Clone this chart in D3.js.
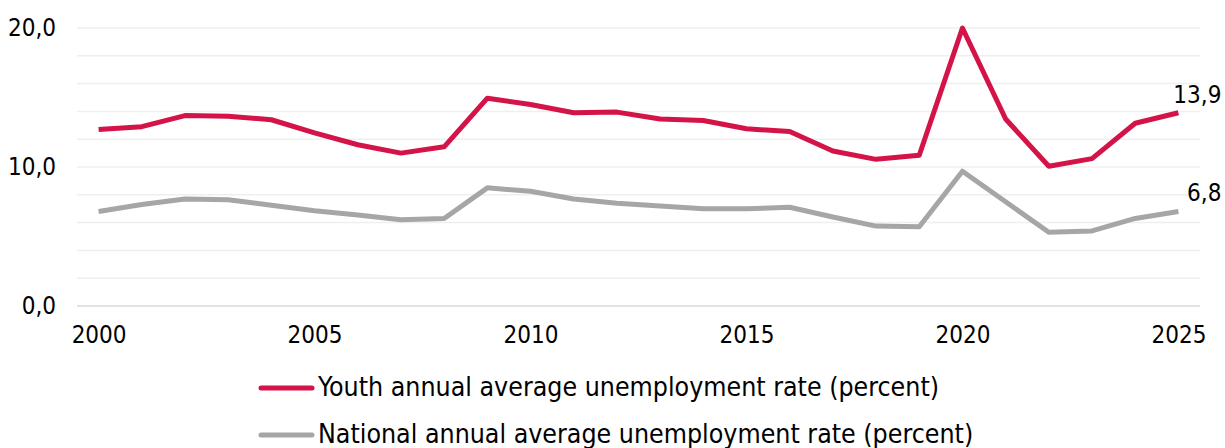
<!DOCTYPE html>
<html>
<head>
<meta charset="utf-8">
<script src="https://cdn.jsdelivr.net/npm/d3@7"></script>
<style>
  html, body { margin: 0; padding: 0; background: #fff; }
  svg { display: block; }
  text { font-family: "DejaVu Sans Condensed", "DejaVu Sans", sans-serif; fill: #000; }
</style>
</head>
<body>
<svg id="chart" width="1225" height="448"></svg>
<script>
// Years on the category axis
const years = [2000, 2001, 2002, 2003, 2004, 2005, 2006, 2007, 2008, 2009,
               2010, 2011, 2012, 2013, 2014, 2015, 2016, 2017, 2018, 2019,
               2020, 2021, 2022, 2023, 2024, 2025];

// Youth annual average unemployment rate (percent)
const youthRate = [12.7, 12.9, 13.7, 13.65, 13.4, 12.45, 11.6, 11.0, 11.45, 14.95,
                   14.5, 13.9, 13.95, 13.45, 13.35, 12.75, 12.55, 11.15, 10.55, 10.85,
                   20.0, 13.45, 10.05, 10.6, 13.15, 13.9];

// National annual average unemployment rate (percent)
const nationalRate = [6.8, 7.3, 7.7, 7.65, 7.25, 6.85, 6.55, 6.2, 6.3, 8.5,
                      8.25, 7.7, 7.4, 7.2, 7.0, 7.0, 7.1, 6.4, 5.75, 5.7,
                      9.7, 7.5, 5.3, 5.4, 6.3, 6.8];

// Axis labels
const yTickValues = [0, 10, 20];
const yGridValues = [0, 2, 4, 6, 8, 10, 12, 14, 16, 18, 20];
const xTickLabels = [2000, 2005, 2010, 2015, 2020, 2025];

const seriesNames = [
  "Youth annual average unemployment rate (percent)",
  "National annual average unemployment rate (percent)"
];
const seriesColors = ["#D41349", "#A6A6A6"];

const fmt = v => d3.format(".1f")(v).replace(".", ",");
const fontFamily = "\"DejaVu Sans Condensed\", \"DejaVu Sans\", sans-serif";
const labelSize = 24;
const legendSize = 26.5;

const svg = d3.select("#chart");
const plot = { left: 77, right: 1200, top: 28, bottom: 306 };

const x = d3.scalePoint()
  .domain(years)
  .range([plot.left, plot.right])
  .padding(0.5);

const y = d3.scaleLinear()
  .domain([0, 20])
  .range([plot.bottom, plot.top]);

// Horizontal gridlines
svg.append("g")
  .selectAll("line")
  .data(yGridValues)
  .join("line")
  .attr("x1", plot.left)
  .attr("x2", plot.right)
  .attr("y1", d => y(d))
  .attr("y2", d => y(d))
  .attr("stroke", d => d === 0 ? "#D9D9D9" : "#EFEFEF")
  .attr("stroke-width", 1.5);

// Y axis labels
const yAxis = d3.axisLeft(y)
  .tickValues(yTickValues)
  .tickSize(0)
  .tickPadding(0)
  .tickFormat(fmt);
svg.append("g")
  .attr("transform", "translate(56,0)")
  .call(yAxis)
  .call(g => g.select(".domain").remove())
  .call(g => g.selectAll("text")
    .attr("font-size", labelSize)
    .attr("font-family", fontFamily)
    .attr("fill", "#000"));

// X axis labels
const xAxis = d3.axisBottom(x)
  .tickValues(xTickLabels)
  .tickSize(0)
  .tickPadding(0);
svg.append("g")
  .attr("transform", "translate(0,326)")
  .call(xAxis)
  .call(g => g.select(".domain").remove())
  .call(g => g.selectAll("text")
    .attr("font-size", labelSize)
    .attr("font-family", fontFamily)
    .attr("fill", "#000"));

const line = d3.line()
  .x((d, i) => x(years[i]))
  .y(d => y(d));

const series = [nationalRate, youthRate];
const colors = [seriesColors[1], seriesColors[0]];

svg.append("g")
  .selectAll("path")
  .data(series)
  .join("path")
  .attr("d", d => line(d))
  .attr("fill", "none")
  .attr("stroke", (d, i) => colors[i])
  .attr("stroke-width", 5)
  .attr("stroke-linejoin", "round");

// End-of-series value labels
const last = years.length - 1;
svg.append("g")
  .selectAll("text")
  .data([youthRate, nationalRate])
  .join("text")
  .attr("x", x(years[last]) + 43)
  .attr("y", d => y(d[last]) - 17)
  .attr("text-anchor", "end")
  .attr("dominant-baseline", "middle")
  .attr("font-size", labelSize)
  .text(d => fmt(d[last]));

// Legend
const legend = svg.append("g");
const legendRows = [388, 435];
seriesNames.forEach((name, i) => {
  legend.append("line")
    .attr("x1", 261).attr("x2", 312)
    .attr("y1", legendRows[i]).attr("y2", legendRows[i])
    .attr("stroke", seriesColors[i])
    .attr("stroke-width", 5)
    .attr("stroke-linecap", "round");
  legend.append("text")
    .attr("x", 318)
    .attr("y", legendRows[i])
    .attr("dominant-baseline", "middle")
    .attr("font-size", legendSize)
    .text(name);
});
</script>
</body>
</html>
